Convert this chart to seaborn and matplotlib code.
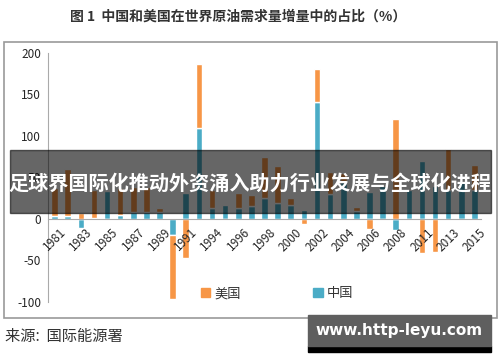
import numpy as np
import pandas as pd
import matplotlib
matplotlib.use("Agg")
import matplotlib.pyplot as plt
from matplotlib.patches import Rectangle
from matplotlib.ticker import FixedLocator, FixedFormatter, NullFormatter
import seaborn as sns

# 年份（缺 1993 与 2009）
years = ["1981", "1982", "1983", "1984", "1985", "1986", "1987", "1988", "1989", "1990",
         "1991", "1992", "1994", "1995", "1996", "1997", "1998", "1999", "2000", "2001",
         "2002", "2003", "2004", "2005", "2006", "2007", "2008", "2010", "2011", "2012",
         "2013", "2014", "2015"]
china = [3, 3, -11, 1, 33, 5, 8, 8, 8, -19,
         31, 110, 13, 17, 13, 15, 25, 19, 17, 11,
         141, 30, 45, 9, 32, 40, -13, 35, 70, 40,
         35, 45, 35]
usa = [34, 57, 7, 34, 0, 32, 30, 30, 5, -78,
       -47, 77, 22, 0, 18, 14, 50, 45, 8, -6,
       40, 27, 10, 5, -12, 0, 120, 0, -41, -40,
       49, 0, 30]

df = pd.DataFrame({"year": years, "china": china, "usa": usa})
# stack on the same side of zero only
df["usa_bottom"] = np.where(np.sign(df["usa"]) == np.sign(df["china"]), df["china"], 0)

sns.set_style("white")
plt.rcParams["font.family"] = ["Noto Sans CJK SC", "DejaVu Sans"]

fig = plt.figure(figsize=(5, 3.62), dpi=100)
ax = fig.add_axes([0.096, 0.166, 0.866, 0.688])

orange = "#F79646"
blue = "#4BACC6"

sns.barplot(data=df, x="year", y="china", color=blue, width=0.5, ax=ax,
            saturation=1)
ax.bar(np.arange(len(df)), df["usa"], bottom=df["usa_bottom"], width=0.5,
       color=orange)
ax.set_axisbelow(False)

ax.set_ylim(-100, 200)
ax.set_xlim(-0.5, len(df) - 0.5)
ax.set_yticks([-100, -50, 0, 50, 100, 150, 200])
ax.set_yticklabels(["-100", "-50", "0", "50", "100", "150", "200"], fontsize=8.5)
ax.set_xlabel("")
ax.set_ylabel("")

ax.xaxis.set_minor_locator(FixedLocator(np.arange(-0.5, len(df), 1)))
ax.xaxis.set_minor_formatter(NullFormatter())
ax.xaxis.set_major_locator(FixedLocator(range(0, len(df), 2)))
ax.xaxis.set_major_formatter(FixedFormatter(years[::2]))
ax.tick_params(axis="x", which="major", length=0, pad=5, labelsize=8.5,
               labelrotation=45)
ax.tick_params(axis="x", which="minor", length=3, color="#999999", direction="out")
ax.tick_params(axis="y", length=3, color="#999999", direction="out", pad=2)
for lab in ax.get_xticklabels():
    lab.set_horizontalalignment("right")
    lab.set_verticalalignment("top")
    lab.set_rotation_mode("anchor")

for s in ["top", "right"]:
    ax.spines[s].set_visible(False)
ax.spines["bottom"].set_position(("data", 0))
ax.spines["bottom"].set_color("#aaaaaa")
ax.spines["left"].set_color("#aaaaaa")

h_us = Rectangle((0, 0), 1, 1, color=orange)
h_cn = Rectangle((0, 0), 1, 1, color=blue)
fig.legend([h_us, h_cn], ["美国", "中国"],
           loc="center", bbox_to_anchor=(0.554, 0.188), ncol=2, frameon=False,
           fontsize=9.5, handlelength=0.7, handleheight=0.7, columnspacing=5.5,
           handletextpad=0.3, labelcolor="#333333")

# outer frame
fig.patches.append(Rectangle((4 / 500, 1 - 318 / 362), 493 / 500, 276 / 362,
                             transform=fig.transFigure, fill=False,
                             edgecolor="#999999", linewidth=1.2))

fig.text(0.476, 1 - 17 / 362, "图 1  中国和美国在世界原油需求量增量中的占比（%）",
         ha="center", va="center", fontsize=10, fontweight="bold", color="#333333")
fig.text(0.01, 1 - 337 / 362, "来源:  国际能源署", ha="left", va="center",
         fontsize=11, color="#333333")

# banner
fig.patches.append(Rectangle((10 / 500, 1 - 213 / 362), 481 / 500, 63 / 362,
                             transform=fig.transFigure, color="black", alpha=0.6,
                             zorder=10))
fig.text(0.5, 1 - 183 / 362, "足球界国际化推动外资涌入助力行业发展与全球化进程",
         ha="center", va="center", fontsize=14.5, fontweight="bold", color="white",
         zorder=11)

# watermark
fig.patches.append(Rectangle((308 / 500, 1 - 352 / 362), 183 / 500, 6 / 362,
                             transform=fig.transFigure, color="black", zorder=10))
fig.patches.append(Rectangle((308 / 500, 1 - 346 / 362), 183 / 500, 31 / 362,
                             transform=fig.transFigure, color="#5f5f5f", zorder=10))
fig.text(399 / 500, 1 - 331 / 362, "www.http-leyu.com", ha="center", va="center",
         fontsize=11, fontweight="bold", color="white", family="DejaVu Sans",
         zorder=11)

fig.savefig("out.png", dpi=100)
